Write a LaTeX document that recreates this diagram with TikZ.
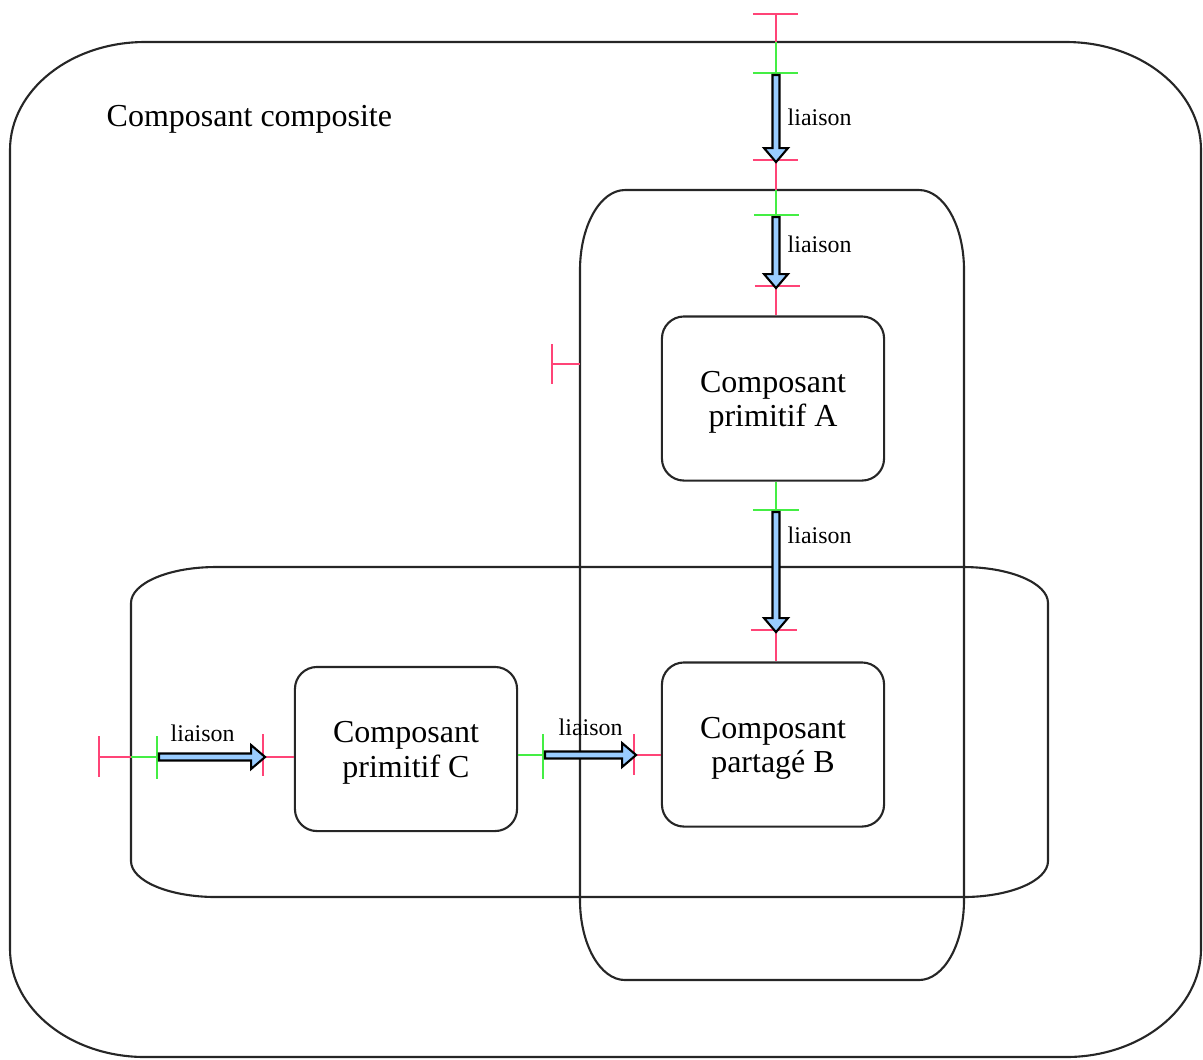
\documentclass[tikz,border=0pt]{standalone}
\usepackage{fontspec}
\setmainfont{Liberation Serif}
\usetikzlibrary{shapes.arrows}
\definecolor{portred}{HTML}{FF4477}
\definecolor{portgreen}{HTML}{44EE44}
\definecolor{flowblue}{HTML}{99CCFF}

% Rectangle with elliptical corners: left, top, right, bottom, x radius, y radius
\newcommand{\softbox}[6]{%
  \pgfmathsetmacro\kx{0.5523*#5}%
  \pgfmathsetmacro\ky{0.5523*#6}%
  \draw[frame] ({#1+#5},#2) -- ({#3-#5},#2)
    .. controls ({#3-#5+\kx},#2) and (#3,{#2+#6-\ky}) .. (#3,{#2+#6})
    -- (#3,{#4-#6})
    .. controls (#3,{#4-#6+\ky}) and ({#3-#5+\kx},#4) .. ({#3-#5},#4)
    -- ({#1+#5},#4)
    .. controls ({#1+#5-\kx},#4) and (#1,{#4-#6+\ky}) .. (#1,{#4-#6})
    -- (#1,{#2+#6})
    .. controls (#1,{#2+#6-\ky}) and ({#1+#5-\kx},#2) .. ({#1+#5},#2) -- cycle;}

\begin{document}
\begin{tikzpicture}[x=0.01cm,y=-0.01cm,
  frame/.style={draw=black!85, line width=0.6pt},
  prim/.style={frame, rounded corners=0.22cm, minimum width=2.22cm,
    minimum height=1.64cm, align=center, inner sep=0pt, text height=17.9pt,
    font=\fontsize{9.1}{9.8}\selectfont},
  red port/.style={draw=portred, line width=0.55pt},
  green port/.style={draw=portgreen, line width=0.55pt},
  flow/.style={single arrow, draw=black, line width=0.6pt, fill=flowblue,
    inner xsep=0pt, inner ysep=0.7pt, single arrow head extend=2.4pt,
    single arrow tip angle=81, sloped, allow upside down, midway, anchor=center},
  lbl/.style={font=\fontsize{6.8}{8}\selectfont, inner sep=0pt, anchor=base west},
]
\useasboundingbox (0,0) rectangle (1203,1059);

% containers
\softbox{10}{42}{1201}{1057}{135}{108}
\softbox{580}{190}{964}{980}{45}{80}
\softbox{131}{567}{1048}{897}{85}{36}

\node[anchor=base west, inner sep=0pt, font=\fontsize{9.1}{11}\selectfont]
  (title) at (106,126) {Composant composite};

% primitive and shared components
\node[prim] (A) at (773,398.5) {Composant\\primitif A};
\node[prim] (B) at (773,744.5) {Composant\\partag\'e B};
\node[prim] (C) at (406,749) {Composant\\primitif C};

% interface points
\coordinate (pT1) at (776,14);
\coordinate (oT)  at (776,42);
\coordinate (gT1) at (776,73);
\coordinate (pT2) at (776,160);
\coordinate (vT)  at (776,190);
\coordinate (gT2) at (776,215);
\coordinate (pT3) at (776,286);
\coordinate (gA)  at (776,510);
\coordinate (pB)  at (776,630);
\coordinate (pL)  at (552,364);
\coordinate (vL)  at (580,364);
\coordinate (pH)  at (99,757);
\coordinate (hL)  at (131,757);
\coordinate (gH)  at (157,757);
\coordinate (pC)  at (263,757);
\coordinate (gC)  at (543,755);
\coordinate (pBw) at (634,755);

% vertical chain
\draw[red port] (pT1) -- (oT);
\draw[red port] ([xshift=-0.23cm]pT1) -- ([xshift=0.22cm]pT1);
\draw[green port] (oT) -- (gT1);
\draw[green port] ([xshift=-0.23cm]gT1) -- ([xshift=0.22cm]gT1);
\draw[red port] ([xshift=-0.23cm]pT2) -- ([xshift=0.22cm]pT2);
\draw[red port] (pT2) -- (vT);
\draw[green port] (vT) -- (gT2);
\draw[green port] ([xshift=-0.22cm]gT2) -- ([xshift=0.23cm]gT2);
\draw[red port] ([xshift=-0.21cm]pT3) -- ([xshift=0.24cm]pT3);
\draw[red port] (pT3) -- (pT3 |- A.north);
\draw[green port] (gA |- A.south) -- (gA);
\draw[green port] ([xshift=-0.23cm]gA) -- ([xshift=0.23cm]gA);
\draw[red port] ([xshift=-0.25cm]pB) -- ([xshift=0.21cm]pB);
\draw[red port] (pB) -- (pB |- B.north);

% side interface of the vertical container
\draw[red port] (pL) -- (vL);
\draw[red port] ([yshift=0.2cm]pL) -- ([yshift=-0.2cm]pL);

% horizontal chain
\draw[red port] ([yshift=0.21cm]pH) -- ([yshift=-0.2cm]pH);
\draw[red port] (pH) -- (hL);
\draw[green port] (hL) -- (gH);
\draw[green port] ([yshift=0.21cm]gH) -- ([yshift=-0.22cm]gH);
\draw[red port] ([yshift=0.23cm]pC) -- ([yshift=-0.19cm]pC);
\draw[red port] (pC) -- (pC -| C.west);
\draw[green port] (C.east |- gC) -- (gC);
\draw[green port] ([yshift=0.21cm]gC) -- ([yshift=-0.24cm]gC);
\draw[red port] ([yshift=0.21cm]pBw) -- ([yshift=-0.2cm]pBw);
\draw[red port] (pBw) -- (pBw -| B.west);

% bindings
\path (gT1) -- (pT2) node[flow, minimum height=0.87cm] (f1) {};
\path (gT2) -- (pT3) node[flow, minimum height=0.71cm] (f2) {};
\path (gA)  -- (pB)  node[flow, minimum height=1.2cm] (f3) {};
\path (gH)  -- (pC)  node[flow, minimum height=1.06cm] (f4) {};
\path (gC)  -- (pBw) node[flow, minimum height=0.91cm] (f5) {};

\node[lbl] (l1) at (787,125) {liaison};
\node[lbl] (l2) at (787,252) {liaison};
\node[lbl] (l3) at (787,543) {liaison};
\node[lbl] (l4) at (170,741) {liaison};
\node[lbl] (l5) at (558,735) {liaison};
\end{tikzpicture}
\end{document}
